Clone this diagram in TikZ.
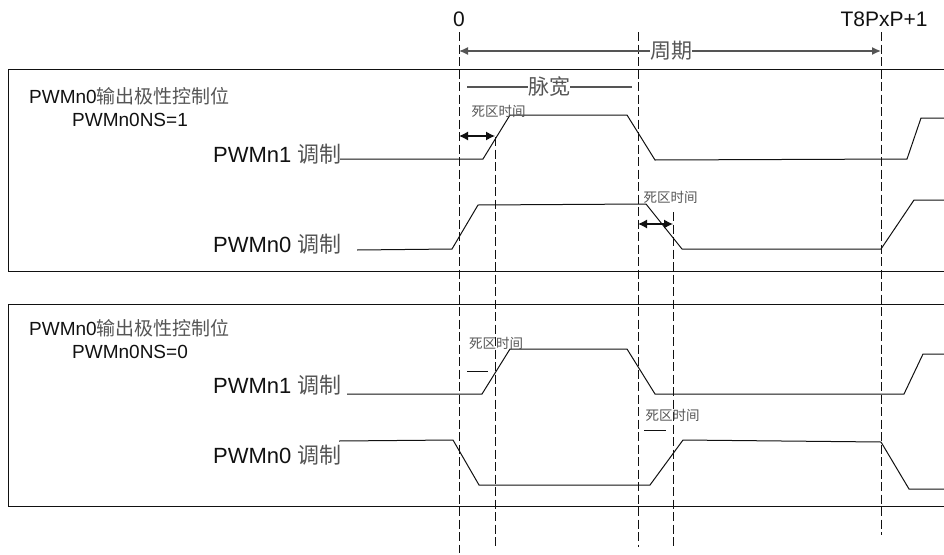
\documentclass[tikz,border=0pt]{standalone}
\usepackage{fontspec}
\setmainfont{Liberation Sans}
\newfontfamily\cjk{Noto Sans CJK SC}
\usetikzlibrary{arrows.meta}
\definecolor{ink}{HTML}{111111}
\definecolor{muted}{HTML}{555555}
\newcommand{\cn}[1]{{\cjk\color{muted}#1}}

\begin{document}
\begin{tikzpicture}[x=1pt, y=-1pt,
  lbl/.style={inner sep=0pt, anchor=base west, text=ink, font=\fontsize{19}{21}\selectfont},
  sig/.style={inner sep=0pt, anchor=base west, text=ink, font=\fontsize{22}{24}\selectfont},
  tick/.style={inner sep=0pt, anchor=base, text=ink, font=\fontsize{21}{23}\selectfont},
  dead/.style={inner sep=0pt, font=\fontsize{13.5}{15}\selectfont},
  span/.style={inner sep=0pt, font=\fontsize{21}{23}\selectfont},
  panel/.style={draw=ink, line width=1pt},
  wave/.style={draw=ink, line width=1pt},
  guide/.style={draw=ink, line width=1pt, dash pattern=on 9pt off 3.5pt},
  arr/.style={-{Latex[length=9pt,width=8pt]}, draw=muted, line width=1.3pt},
  darr/.style={{Latex[length=9pt,width=9pt]}-{Latex[length=9pt,width=9pt]}, draw=ink, line width=1.2pt},
  bar/.style={draw=muted, line width=1.2pt},
]
\useasboundingbox (0,0) rectangle (944,554);
% the two panels, open on the right
\draw[panel] (944,69) -- (8,69) -- (8,271) -- (944,271);
\draw[panel] (944,304) -- (8,304) -- (8,506) -- (944,506);
% guides
\draw[guide] (459,32) -- (459,553);
\draw[guide] (495,137) -- (495,547);
\draw[guide] (638,32) -- (638,547);
\draw[guide] (673,212) -- (673,547);
\draw[guide] (881,32) -- (881,535);
% top labels
\node[tick] (zero) at (459,27) {0};
\node[tick] (end) at (884,27) {T8PxP+1};
% period
\coordinate (pa) at (459,51);
\coordinate (pb) at (881,51);
\node[span] (period) at (671,51) {\cn{周期}};
\draw[arr] (period.west) -- (pa);
\draw[arr] (period.east) -- (pb);
% pulse width
\coordinate (wa) at (467,87);
\coordinate (wb) at (632,87);
\node[span] (width) at (549,87) {\cn{脉宽}};
\draw[bar] (width.west) -- (wa);
\draw[bar] (width.east) -- (wb);
% first panel
\node[lbl] (titleA) at (29,103) {PWMn0\cn{输出极性控制位}};
\node[lbl] (valA) at (72,126) {PWMn0NS=1};
\node[sig] (n1A) at (213,162) {PWMn1 \cn{调制}};
\node[sig] (n0A) at (213,252) {PWMn0 \cn{调制}};
\draw[wave] (340,159) -- (483,159) -- (510,115) -- (627,115) -- (655,160) -- (907,159) -- (921,118) -- (944,118);
\draw[wave] (357,250) -- (452,249) -- (478,205) -- (646,204) -- (682,249) -- (881,249) -- (914,200) -- (944,200);
\coordinate (da) at (459,136);
\coordinate (db) at (495,136);
\coordinate (dc) at (638,224);
\coordinate (dd) at (673,224);
\draw[darr] (da) -- (db);
\draw[darr] (dc) -- (dd);
\node[dead] (deadA) at (498.5,111) {\cn{死区时间}};
\node[dead] (deadB) at (670.5,197) {\cn{死区时间}};
% second panel
\node[lbl] (titleB) at (29,335) {PWMn0\cn{输出极性控制位}};
\node[lbl] (valB) at (72,358) {PWMn0NS=0};
\node[sig] (n1B) at (213,393) {PWMn1 \cn{调制}};
\node[sig] (n0B) at (213,463) {PWMn0 \cn{调制}};
\draw[wave] (347,394) -- (482,394) -- (510,349) -- (627,349) -- (655,394) -- (904,394) -- (923,354) -- (944,354);
\draw[wave] (339,441) -- (453,440) -- (479,485) -- (650,485) -- (683,440) -- (881,442) -- (909,489) -- (944,489);
\node[dead] (deadC) at (496,343) {\cn{死区时间}};
\node[dead] (deadD) at (672.5,415) {\cn{死区时间}};
\coordinate (ca) at (467,371);
\coordinate (cb) at (488,371);
\coordinate (cc) at (644,430);
\coordinate (cd) at (666,430);
\draw[wave] (ca) -- (cb);
\draw[wave] (cc) -- (cd);
\end{tikzpicture}
\end{document}
